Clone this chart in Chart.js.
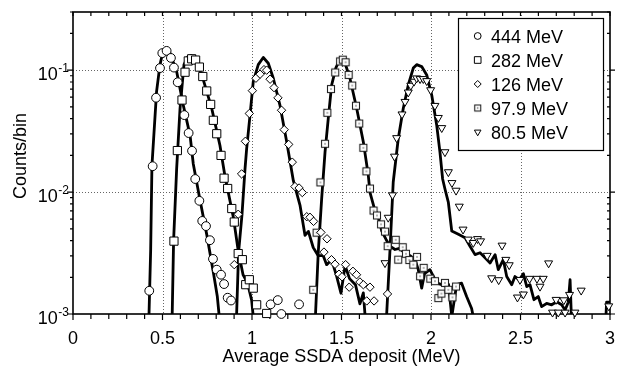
<!DOCTYPE html>
<html>
<head>
<meta charset="utf-8">
<title>SSDA deposit</title>
<script src="https://cdn.jsdelivr.net/npm/chart.js@4/dist/chart.umd.min.js"></script>
<style>
  html, body { margin: 0; padding: 0; background: #fff; }
  #wrap { width: 618px; height: 366px; }
</style>
</head>
<body>
<div id="wrap"><canvas id="chart" width="618" height="366"></canvas></div>
<script>
// ── Data ──────────────────────────────────────────────────────
const seriesLabels = ['444 MeV', '282 MeV', '126 MeV', '97.9 MeV', '80.5 MeV'];
const xGrid = [0.5, 1, 1.5, 2, 2.5];
const yDecades = [0.001, 0.01, 0.1];
const yExponents = ['-3', '-2', '-1'];

// measured points
const m444X = [0.426,0.445,0.464,0.486,0.499,0.523,0.547,0.564,0.585,0.622,0.646,0.665,0.683,0.706,0.722,0.743,0.765,0.782,0.803,0.827,0.844,0.864,0.883,1.104,1.144,1.164,1.263];
const m444Y = [0.00155,0.0163,0.0594,0.104,0.138,0.144,0.126,0.105,0.0796,0.0428,0.0305,0.0218,0.0128,0.00848,0.0058,0.00526,0.00403,0.00283,0.00231,0.0021,0.00176,0.00136,0.00129,0.0012,0.0013,0.001,0.0012];

const m282X = [0.564,0.583,0.609,0.626,0.644,0.663,0.685,0.706,0.725,0.747,0.769,0.784,0.803,0.827,0.844,0.864,0.887,0.901,0.923,0.946,0.965,0.985,1.007,1.026,1.082];
const m282Y = [0.00396,0.0219,0.0569,0.0962,0.119,0.124,0.121,0.106,0.0887,0.0675,0.0524,0.0388,0.0301,0.0200,0.0130,0.0107,0.00733,0.00568,0.00313,0.00279,0.00174,0.00191,0.00163,0.00119,0.00101];

const m126X = [0.901,0.923,0.942,0.963,0.985,1.002,1.022,1.045,1.067,1.082,1.101,1.123,1.145,1.165,1.180,1.205,1.225,1.240,1.263,1.281,1.306,1.324,1.344,1.385,1.402,1.419,1.444,1.464,1.486,1.503,1.523,1.543,1.564,1.584,1.603,1.622,1.641,1.659,1.682,1.757];
const m126Y = [0.00254,0.00658,0.0141,0.0261,0.0441,0.0679,0.0859,0.0927,0.101,0.100,0.0843,0.0719,0.0593,0.0469,0.0325,0.0246,0.0176,0.0111,0.0108,0.00991,0.00628,0.00621,0.00575,0.00467,0.00322,0.00414,0.00279,0.00256,0.00212,0.00202,0.00254,0.00166,0.00224,0.00210,0.00183,0.00174,0.00128,0.00166,0.00128,0.00146];

const m979X = [1.342,1.361,1.382,1.408,1.421,1.441,1.465,1.492,1.507,1.523,1.540,1.560,1.581,1.599,1.622,1.639,1.659,1.679,1.698,1.721,1.743,1.758,1.803,1.817,1.842,1.860,1.879,1.901,1.922,1.939,1.959,1.996,2.022,2.041,2.058,2.078,2.097,2.120,2.140];
const m979Y = [0.00158,0.00465,0.0120,0.0249,0.0447,0.0700,0.0957,0.118,0.122,0.116,0.0914,0.0748,0.0511,0.0365,0.0231,0.0148,0.0107,0.00706,0.00643,0.00544,0.00474,0.00360,0.00406,0.00279,0.00353,0.00312,0.00277,0.00254,0.00294,0.00204,0.00239,0.00195,0.00186,0.00135,0.00147,0.00180,0.00158,0.00137,0.00168];

const m805X = [1.743,1.761,1.785,1.796,1.808,1.838,1.855,1.873,1.887,1.905,1.920,1.939,1.957,1.976,1.998,2.022,2.041,2.060,2.078,2.097,2.117,2.140,2.158,2.179,2.208,2.236,2.260,2.277,2.314,2.339,2.378,2.397,2.418,2.437,2.483,2.497,2.516,2.551,2.592,2.609,2.627,2.657,2.679,2.699,2.711,2.742,2.749,2.774,2.804,2.839,2.993];
const m805Y = [0.00262,0.00618,0.00944,0.0196,0.0278,0.0435,0.0551,0.0658,0.0748,0.0807,0.0859,0.0848,0.0848,0.0816,0.0687,0.0511,0.0407,0.0336,0.0213,0.0146,0.0119,0.0103,0.00762,0.00494,0.00409,0.00384,0.00413,0.00396,0.00301,0.00197,0.00190,0.00365,0.00279,0.00252,0.00137,0.00191,0.00145,0.00195,0.00195,0.00168,0.00195,0.00261,0.00103,0.00131,0.00103,0.00130,0.00103,0.00144,0.00103,0.00156,0.00116];

// simulation curves (solid lines)
const s444X = [0.423,0.434,0.441,0.467,0.486,0.505,0.520,0.542,0.579,0.616,0.654,0.672,0.709,0.747,0.784,0.806,0.822];
const s444Y = [0.0008,0.0034,0.0165,0.067,0.111,0.147,0.148,0.138,0.0975,0.0517,0.0292,0.0170,0.0087,0.0045,0.0022,0.0014,0.0008];

const s282X = [0.553,0.562,0.579,0.598,0.620,0.640,0.659,0.691,0.728,0.775,0.821,0.849,0.896,0.923,0.950,0.975,0.998,1.012];
const s282Y = [0.0008,0.0040,0.0155,0.0486,0.111,0.128,0.132,0.118,0.0832,0.0486,0.0241,0.0135,0.0062,0.0033,0.0021,0.0018,0.0013,0.0008];

const s126X = [0.912,0.925,0.944,0.961,0.970,0.989,1.007,1.035,1.063,1.091,1.119,1.156,1.194,1.231,1.268,1.296,1.315,1.342,1.370,1.398,1.417,1.445,1.472,1.497,1.520,1.545,1.578,1.603,1.622,1.631,1.640];
const s126Y = [0.0008,0.0032,0.0065,0.0155,0.0226,0.0428,0.0806,0.111,0.127,0.114,0.0859,0.0517,0.0257,0.0124,0.00782,0.00442,0.00476,0.00351,0.00301,0.00301,0.00254,0.00279,0.00206,0.00148,0.00249,0.00195,0.00174,0.00121,0.00149,0.0010,0.0008];

const s979X = [1.352,1.370,1.389,1.408,1.426,1.445,1.469,1.496,1.520,1.547,1.585,1.622,1.650,1.659,1.682,1.706,1.725,1.749,1.771,1.799,1.823,1.845,1.883,1.911,1.929,1.948,1.964,1.994,2.032,2.078,2.098,2.116,2.143,2.171,2.199,2.227,2.246];
const s979Y = [0.0008,0.00318,0.00875,0.0213,0.0401,0.0756,0.105,0.126,0.114,0.0859,0.0485,0.0258,0.0136,0.00996,0.00748,0.00618,0.00479,0.00409,0.00360,0.00338,0.00345,0.00325,0.00301,0.00279,0.00231,0.00163,0.00214,0.00231,0.00180,0.00170,0.00175,0.00095,0.00174,0.00179,0.00139,0.00111,0.0008];

const s805X = [1.749,1.771,1.789,1.817,1.845,1.873,1.901,1.920,1.948,1.976,2.004,2.032,2.050,2.065,2.078,2.097,2.116,2.153,2.190,2.218,2.246,2.274,2.302,2.330,2.358,2.376,2.404,2.423,2.451,2.469,2.493,2.516,2.535,2.553,2.575,2.599,2.618,2.646,2.674,2.702,2.730,2.749,2.767,2.777,2.786,2.975,2.981,3.0];
const s805Y = [0.0008,0.00338,0.0121,0.0274,0.0485,0.0756,0.104,0.111,0.107,0.0914,0.0625,0.0353,0.0213,0.0128,0.0106,0.00822,0.00479,0.00450,0.00423,0.00360,0.00307,0.00318,0.00289,0.00262,0.00307,0.00231,0.00279,0.00203,0.00174,0.00203,0.00191,0.00214,0.00168,0.00174,0.00131,0.00139,0.00115,0.00122,0.00119,0.00126,0.00119,0.00108,0.00125,0.00191,0.0008,0.0008,0.00125,0.00125];

const markerData = [[m444X, m444Y], [m282X, m282Y], [m126X, m126Y], [m979X, m979Y], [m805X, m805Y]];
const simData = [[s444X, s444Y], [s282X, s282Y], [s126X, s126Y], [s979X, s979Y], [s805X, s805Y]];

// ── Styling ──────────────────────────────────────────────────
const FONT = '"Liberation Sans", Arial, Helvetica, sans-serif';

// square with a dot in the middle (97.9 MeV)
function dotSquare(n) {
  const c = document.createElement('canvas');
  c.width = n; c.height = n;
  const g = c.getContext('2d');
  g.fillStyle = '#fff'; g.fillRect(1, 1, n - 2, n - 2);
  g.strokeStyle = '#222'; g.lineWidth = 1.1; g.strokeRect(1.5, 1.5, n - 3, n - 3);
  g.fillStyle = '#333'; g.fillRect(n / 2 - 0.6, n / 2 - 0.6, 1.2, 1.2);
  return c;
}

const markerStyles = [
  { style: 'circle',   r: 4.4, rot: 0,   ls: 'circle',   lr: 3.4 },
  { style: 'rect',     r: 5.8, rot: 0,   ls: 'rect',     lr: 4.7 },
  { style: 'rectRot',  r: 4.2, rot: 0,   ls: 'rectRot',  lr: 3.5 },
  { style: dotSquare(10), r: 5, rot: 0,  ls: dotSquare(9), lr: 4.5 },
  { style: 'triangle', r: 4.6, rot: 180, ls: 'triangle', lr: 3.8 },
];

const pts = (xs, ys) => xs.map((x, i) => ({ x, y: ys[i] }));

const datasets = [
  ...markerData.map((d, i) => ({
    label: seriesLabels[i],
    data: pts(d[0], d[1]),
    showLine: false,
    pointStyle: markerStyles[i].style,
    pointRadius: markerStyles[i].r,
    pointRotation: markerStyles[i].rot,
    pointBackgroundColor: '#fff',
    pointBorderColor: '#000',
    pointBorderWidth: 1,
    order: 0,
    clip: false,
  })),
  ...simData.map((d, i) => ({
    label: seriesLabels[i] + ' sim',
    data: pts(d[0], d[1]),
    showLine: true,
    borderColor: '#000',
    borderWidth: 2.8,
    borderJoinStyle: 'round',
    pointRadius: 0,
    order: 1,
    clip: 0,
  })),
];

// ── Frame, ticks, log labels, legend ────────────────────────
const framePlugin = {
  id: 'frame',
  beforeDatasetsDraw(chart) {
    const { ctx, chartArea: a, scales: { x, y } } = chart;
    ctx.save();

    // dotted grid
    ctx.strokeStyle = '#666'; ctx.lineWidth = 1; ctx.setLineDash([1, 2]);
    ctx.beginPath();
    xGrid.forEach(v => {
      const px = Math.round(x.getPixelForValue(v)) + 0.5;
      ctx.moveTo(px, a.top); ctx.lineTo(px, a.bottom);
    });
    yDecades.slice(1).forEach(v => {
      const py = Math.round(y.getPixelForValue(v)) + 0.5;
      ctx.moveTo(a.left, py); ctx.lineTo(a.right, py);
    });
    ctx.stroke();
    ctx.setLineDash([]);

    // ticks
    ctx.strokeStyle = '#000'; ctx.lineWidth = 1.2;
    ctx.beginPath();
    for (let i = 0; i <= 30; i++) {
      const px = x.getPixelForValue(i / 10);
      const major = i % 5 === 0;
      ctx.moveTo(px, a.bottom); ctx.lineTo(px, a.bottom + (major ? 6 : 5));
      ctx.moveTo(px, a.top); ctx.lineTo(px, a.top + 4);
    }
    yDecades.forEach(d => {
      for (let m = 1; m <= 9; m++) {
        const v = d * m;
        if (v > y.max + 1e-9) break;
        const py = y.getPixelForValue(v);
        if (m === 1) {
          ctx.moveTo(a.left, py); ctx.lineTo(a.left - 6, py);
          ctx.moveTo(a.right, py); ctx.lineTo(a.right + 5, py);
        } else {
          ctx.moveTo(a.left, py); ctx.lineTo(a.left - 3, py);
          ctx.moveTo(a.right, py); ctx.lineTo(a.right - 3, py);
        }
      }
    });
    ctx.stroke();

    // frame
    ctx.lineWidth = 1.6;
    ctx.strokeRect(a.left, a.top, a.right - a.left, a.bottom - a.top);

    // log labels 10^n
    ctx.fillStyle = '#000';
    ctx.textAlign = 'right'; ctx.textBaseline = 'alphabetic';
    yDecades.forEach((v, i) => {
      const py = y.getPixelForValue(v);
      ctx.font = `12px ${FONT}`;
      const ew = ctx.measureText(yExponents[i]).width;
      ctx.fillText(yExponents[i], a.left - 4, py + 2);
      ctx.font = `18px ${FONT}`;
      ctx.fillText('10', a.left - 4 - ew - 0.5, py + 10);
    });

    // y title
    ctx.font = `18px ${FONT}`;
    ctx.textAlign = 'center'; ctx.textBaseline = 'middle';
    ctx.translate(21, 156);
    ctx.rotate(-Math.PI / 2);
    ctx.fillText('Counts/bin', 0, 0);
    ctx.restore();
  },
  afterDatasetsDraw(chart) {
    const { ctx } = chart;
    ctx.save();
    const bx = 458.5, by = 18.5, bw = 145, bh = 132;
    ctx.fillStyle = '#fff'; ctx.fillRect(bx, by, bw, bh);
    ctx.strokeStyle = '#000'; ctx.lineWidth = 1.2; ctx.strokeRect(bx, by, bw, bh);
    ctx.font = `18px ${FONT}`;
    ctx.textAlign = 'left'; ctx.textBaseline = 'alphabetic';
    seriesLabels.forEach((lab, i) => {
      const cy = 36 + i * 24;
      const st = markerStyles[i];
      ctx.fillStyle = '#fff'; ctx.strokeStyle = '#000'; ctx.lineWidth = 1;
      Chart.helpers.drawPoint(ctx, { pointStyle: st.ls, rotation: st.rot, radius: st.lr, borderWidth: 1 }, 477.7, cy);
      ctx.fillStyle = '#000';
      ctx.fillText(lab, 491, cy + 6.5);
    });
    ctx.restore();
  }
};

Chart.defaults.font.family = FONT;
Chart.defaults.color = '#000';

new Chart(document.getElementById('chart'), {
  type: 'scatter',
  data: { datasets },
  options: {
    responsive: false,
    animation: false,
    events: [],
    layout: { padding: { top: 12, right: 8, left: 0, bottom: 0 } },
    plugins: { legend: { display: false }, tooltip: { enabled: false } },
    scales: {
      x: {
        type: 'linear', min: 0, max: 3,
        grid: { display: false, drawTicks: false },
        border: { display: false },
        ticks: { stepSize: 0.5, padding: 14, font: { size: 18 }, color: '#000', maxRotation: 0,
                 callback: v => String(+Number(v).toFixed(1)) },
        title: { display: true, text: 'Average SSDA deposit (MeV)', color: '#000',
                 font: { size: 18, lineHeight: 1 }, padding: { top: 0, bottom: 0 } },
        afterFit: s => { s.height = 52; s.paddingLeft = 0; s.paddingRight = 0; },
      },
      y: {
        type: 'logarithmic', min: 0.001, max: 0.3,
        grid: { display: false, drawTicks: false },
        border: { display: false },
        ticks: { display: false },
        afterFit: s => { s.width = 73; },
      },
    },
  },
  plugins: [framePlugin],
});
</script>
</body>
</html>
